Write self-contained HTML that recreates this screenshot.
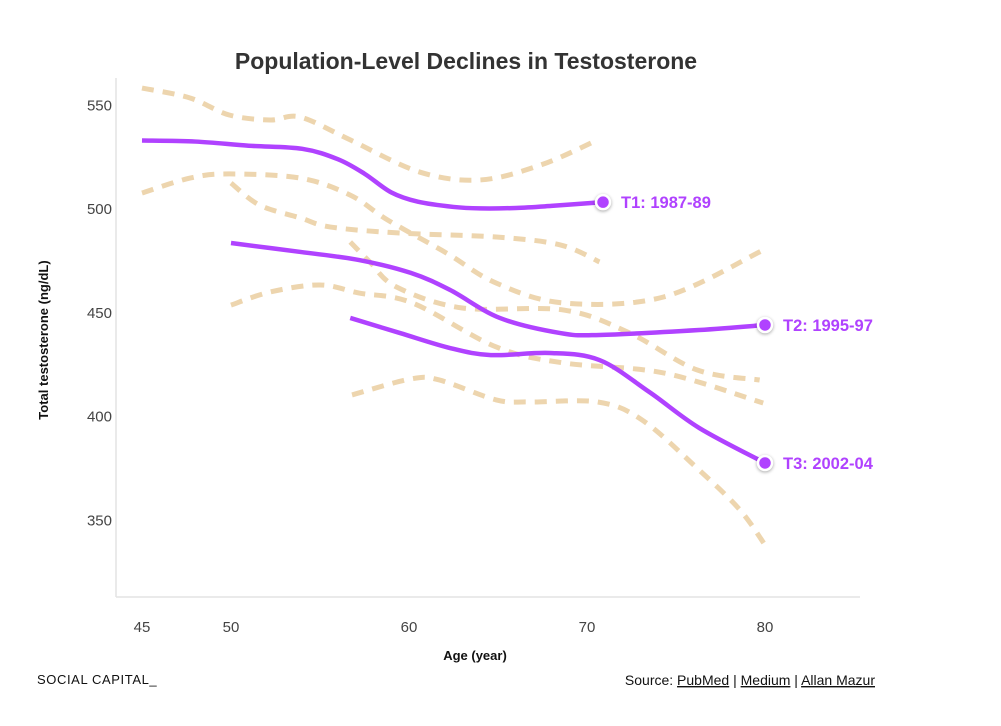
<!DOCTYPE html>
<html><head><meta charset="utf-8"><style>
body{margin:0;background:#fff;width:1001px;height:721px;overflow:hidden;font-family:"Liberation Sans",Arial,sans-serif}
svg text{font-family:"Liberation Sans",Arial,sans-serif}
</style></head><body>
<svg id="chart" width="1001" height="721">
<text x="466" y="69" text-anchor="middle" font-size="23" font-weight="bold" fill="#333">Population-Level Declines in Testosterone</text>
<line x1="116" y1="78" x2="116" y2="597" stroke="#e3e3e3" stroke-width="1.5"/>
<line x1="116" y1="597" x2="860" y2="597" stroke="#e3e3e3" stroke-width="1.5"/>
<text transform="translate(48,340) rotate(-90)" text-anchor="middle" font-size="13" font-weight="bold" fill="#111">Total testosterone (ng/dL)</text>
<text x="475" y="660" text-anchor="middle" font-size="13" font-weight="bold" fill="#111">Age (year)</text>
<text x="37" y="684" font-size="13" fill="#111" letter-spacing="0.6">SOCIAL CAPITAL_</text>
<text x="875" y="685" text-anchor="end" font-size="14" fill="#111">Source: <tspan text-decoration="underline">PubMed</tspan> | <tspan text-decoration="underline">Medium</tspan> | <tspan text-decoration="underline">Allan Mazur</tspan></text>
<g id="bands"></g><g id="means"></g><g id="ticks"></g>
</svg>
<script>
const xTicks=[45,50,60,70,80];
const yTicks=[350,400,450,500,550];
const band1Age=[45,47.7,49.9,52.2,53.9,56.7,60.6,64,67.4,70.6];
const band1Val=[558.3,553.5,545.3,542.9,544.3,533.3,517.8,514,521.2,533.3];
const band2Age=[45,47.7,49.9,53.9,56.7,58.8,62.1,64.9,68.7,74.3,79.9];
const band2Val=[507.7,514.9,516.9,514.9,506.7,494.7,478.8,464.3,454.7,457.6,480.2];
const band3Age=[50,51.6,53.9,55.6,59.5,64.9,68.5,70.7];
const band3Val=[512.5,501.9,495.7,491.3,488.4,486.5,482.7,474.5];
const band4Age=[56.7,57.8,59.3,63,68.7,72.4,76.2,79.7];
const band4Val=[484.1,474.5,462.4,452.3,451.3,440.2,422.4,417.6];
const band5Age=[50,52.2,55,57.2,60.2,64.9,68.7,74.3,79.9];
const band5Val=[453.7,460,463.4,459.5,454.7,433.5,425.8,421,406.5];
const band6Age=[56.8,60.1,61.7,64.9,66.8,70.6,73.1,76.3,78.6,80];
const band6Val=[410.4,418.1,417.6,408,407,407,398.3,374.2,354.9,338.1];
const t1Age=[45,48,51,54,56,57.5,59,60.5,62.5,64,66,68,70.9];
const t1Val=[533,532.5,530.5,529,524,517,508,503.5,501,500.3,500.5,501.5,503.3];
const t2Age=[50,53.9,57.2,60.1,62.3,65.1,68.5,70.7,76.3,80];
const t2Val=[483.6,479.3,475.4,469.2,461,447.5,440.2,439.3,441.7,444.1];
const t3Age=[56.7,59.5,62.3,64.6,67.9,70.7,73.5,76.3,80];
const t3Val=[447.5,440.2,433,429.6,430.6,427.2,411.8,394.5,377.6];
const seriesLabels=["T1: 1987-89","T2: 1995-97","T3: 2002-04"];
const NS="http://www.w3.org/2000/svg";
const X=a=>142+(a-45)*17.8;
const Y=v=>209-(v-500)*2.075;
function pathD(ages,vals){
  const p=ages.map((a,i)=>[X(a),Y(vals[i])]);
  let d="M"+p[0][0]+","+p[0][1];
  for(let i=0;i<p.length-1;i++){
    const p0=p[i-1]||p[i],p1=p[i],p2=p[i+1],p3=p[i+2]||p2;
    const c1=[p1[0]+(p2[0]-p0[0])/6,p1[1]+(p2[1]-p0[1])/6];
    const c2=[p2[0]-(p3[0]-p1[0])/6,p2[1]-(p3[1]-p1[1])/6];
    d+=" C"+c1+" "+c2+" "+p2;
  }
  return d;
}
const bands=[[band1Age,band1Val],[band2Age,band2Val],[band3Age,band3Val],[band4Age,band4Val],[band5Age,band5Val],[band6Age,band6Val]];
const gB=document.getElementById("bands");
bands.forEach((b,i)=>{
  const el=document.createElementNS(NS,"path");
  el.setAttribute("d",pathD(b[0],b[1]));
  el.setAttribute("fill","none");el.setAttribute("stroke","#edd5ae");
  el.setAttribute("stroke-width","5");el.setAttribute("stroke-dasharray","12 9");
  
  
  gB.appendChild(el);
});
const means=[[t1Age,t1Val],[t2Age,t2Val],[t3Age,t3Val]];
const gM=document.getElementById("means");
means.forEach((m,i)=>{
  const el=document.createElementNS(NS,"path");
  el.setAttribute("d",pathD(m[0],m[1]));
  el.setAttribute("fill","none");el.setAttribute("stroke","#b042ff");el.setAttribute("stroke-width","4.5");
  
  
  gM.appendChild(el);
  const n=m[0].length-1,cx=X(m[0][n]),cy=Y(m[1][n]);
  const c=document.createElementNS(NS,"circle");
  c.setAttribute("cx",cx);c.setAttribute("cy",cy);c.setAttribute("r","7");
  c.setAttribute("fill","#b042ff");c.setAttribute("stroke","#fff");c.setAttribute("stroke-width","2.5");
  c.setAttribute("style","filter:drop-shadow(0 1px 1.5px rgba(0,0,0,0.35))");
  
  
  gM.appendChild(c);
  const t=document.createElementNS(NS,"text");
  t.setAttribute("x",cx+18);t.setAttribute("y",cy+6);
  t.setAttribute("font-size","16.5");t.setAttribute("font-weight","bold");t.setAttribute("fill","#b042ff");
  t.textContent=seriesLabels[i];
  
  
  gM.appendChild(t);
});
const gT=document.getElementById("ticks");
xTicks.forEach(v=>{
  const t=document.createElementNS(NS,"text");
  t.setAttribute("x",X(v));t.setAttribute("y",632);t.setAttribute("text-anchor","middle");
  t.setAttribute("font-size","15");t.setAttribute("fill","#444");t.textContent=v;
  
  
  gT.appendChild(t);
});
yTicks.forEach(v=>{
  const t=document.createElementNS(NS,"text");
  t.setAttribute("x",112);t.setAttribute("y",Y(v)+5);t.setAttribute("text-anchor","end");
  t.setAttribute("font-size","15");t.setAttribute("fill","#444");t.textContent=v;
  
  
  gT.appendChild(t);
});
</script>
</body></html>
